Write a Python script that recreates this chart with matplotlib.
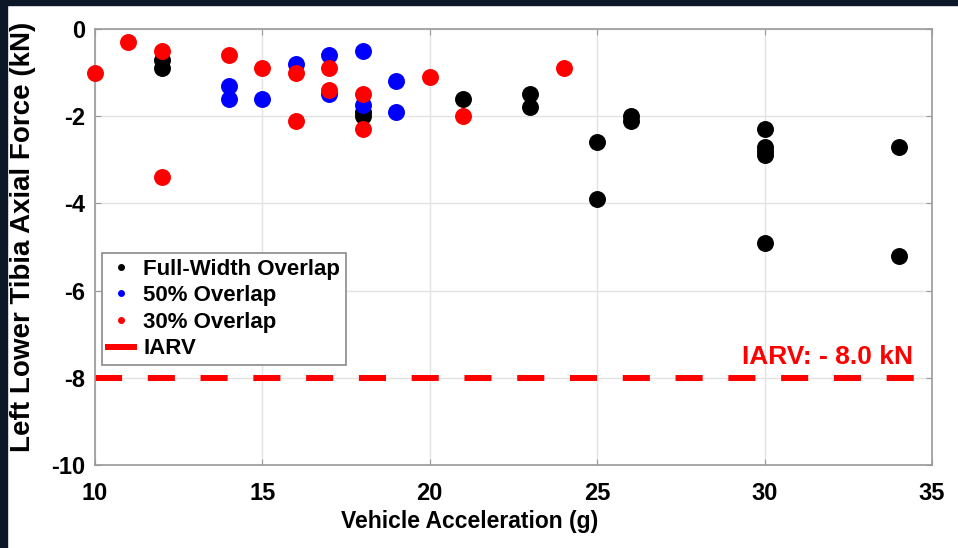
import matplotlib
matplotlib.use('Agg')
import matplotlib.pyplot as plt
from matplotlib.lines import Line2D
from matplotlib.patches import Rectangle

# values
full_x = [12, 12, 18, 18, 21, 23, 23, 25, 25, 26, 26, 30, 30, 30, 30, 30, 34, 34]
full_y = [-0.7, -0.9, -1.9, -2.0, -1.6, -1.5, -1.8, -2.6, -3.9, -2.0, -2.1,
          -2.3, -2.7, -2.8, -2.9, -4.9, -2.7, -5.2]

half_x = [14, 14, 15, 16, 17, 17, 18, 18, 19, 19]
half_y = [-1.3, -1.6, -1.6, -0.8, -0.6, -1.5, -0.5, -1.75, -1.2, -1.9]

third_x = [10, 11, 12, 12, 14, 15, 16, 16, 17, 17, 18, 18, 20, 21, 24]
third_y = [-1.0, -0.3, -0.5, -3.4, -0.6, -0.9, -1.0, -2.1, -0.9, -1.4, -1.5,
           -2.3, -1.1, -2.0, -0.9]

iarv = -8.0
xticks = [10, 15, 20, 25, 30, 35]
yticks = [0, -2, -4, -6, -8, -10]

plt.rcParams['font.family'] = ['Liberation Sans', 'DejaVu Sans']
plt.rcParams['lines.scale_dashes'] = False
plt.rcParams['axes.unicode_minus'] = False

fig = plt.figure(figsize=(9.58, 5.48), dpi=100)
fig.patch.set_facecolor('white')
# dark frame strips at left and top edges
fig.patches.append(Rectangle((0, 0), 7 / 958, 1, transform=fig.transFigure,
                             color='#0c1828', zorder=-1))
fig.patches.append(Rectangle((0, 1 - 5 / 548), 1, 5 / 548, transform=fig.transFigure,
                             color='#0c1828', zorder=-1))

ax = fig.add_axes([95 / 958, 1 - 465 / 548, 837 / 958, 436 / 548])

ms = 12.2
ax.plot(full_x, full_y, 'o', color='black', markersize=ms, markeredgewidth=0,
        zorder=3, clip_on=False)
ax.plot(half_x, half_y, 'o', color='#0000ff', markersize=ms, markeredgewidth=0,
        zorder=4, clip_on=False)
ax.plot(third_x, third_y, 'o', color='#ff0000', markersize=ms, markeredgewidth=0,
        zorder=5, clip_on=False)
ax.axhline(iarv, color='#ff0000', linewidth=4.3, dashes=(19.5, 18.5), zorder=2)

ax.text(34.43, iarv + 0.32, 'IARV: - 8.0 kN', color='#ff0000', fontsize=19,
        fontweight='bold', ha='right', va='baseline')

ax.set_xlim(10, 35)
ax.set_ylim(-10, 0)
ax.set_xticks(xticks)
ax.set_yticks(yticks)
ax.grid(True, color='#e3e3e3', linewidth=1)
ax.set_axisbelow(True)
for s in ax.spines.values():
    s.set_color('#9a9a9a')
    s.set_linewidth(1.2)
ax.tick_params(direction='in', length=4, color='#9a9a9a', top=True, right=True)
ax.tick_params(axis='y', pad=7, labelsize=17)
ax.tick_params(axis='x', pad=12, labelsize=17)
for lab in ax.get_yticklabels() + ax.get_xticklabels():
    lab.set_fontweight('bold')

ax.set_ylabel('Left Lower Tibia Axial Force (kN)', fontsize=20, fontweight='bold')
ax.yaxis.set_label_coords(-0.070, 0.523)
ax.set_xlabel('Vehicle Acceleration (g)', fontsize=16.5, fontweight='bold')
ax.xaxis.set_label_coords(0.448, -0.104)

handles = [
    Line2D([], [], marker='o', linestyle='none', color='black', markersize=4),
    Line2D([], [], marker='o', linestyle='none', color='#0000ff', markersize=4),
    Line2D([], [], marker='o', linestyle='none', color='#ff0000', markersize=4),
    Line2D([], [], color='#ff0000', linewidth=4.3),
]
labels = ['Full-Width Overlap', '50% Overlap', '30% Overlap', 'IARV']
leg = ax.legend(handles, labels, loc='upper left', bbox_to_anchor=(0.0084, 0.486),
                prop={'weight': 'bold', 'size': 16},
                handlelength=1.2, handletextpad=0.4, labelspacing=0.25,
                borderpad=0.25, borderaxespad=0, fancybox=False, framealpha=1)
leg.get_frame().set_edgecolor('#8a8a8a')
leg.get_frame().set_linewidth(1.2)
leg.set_zorder(6)

fig.savefig('out.png', dpi=100)
